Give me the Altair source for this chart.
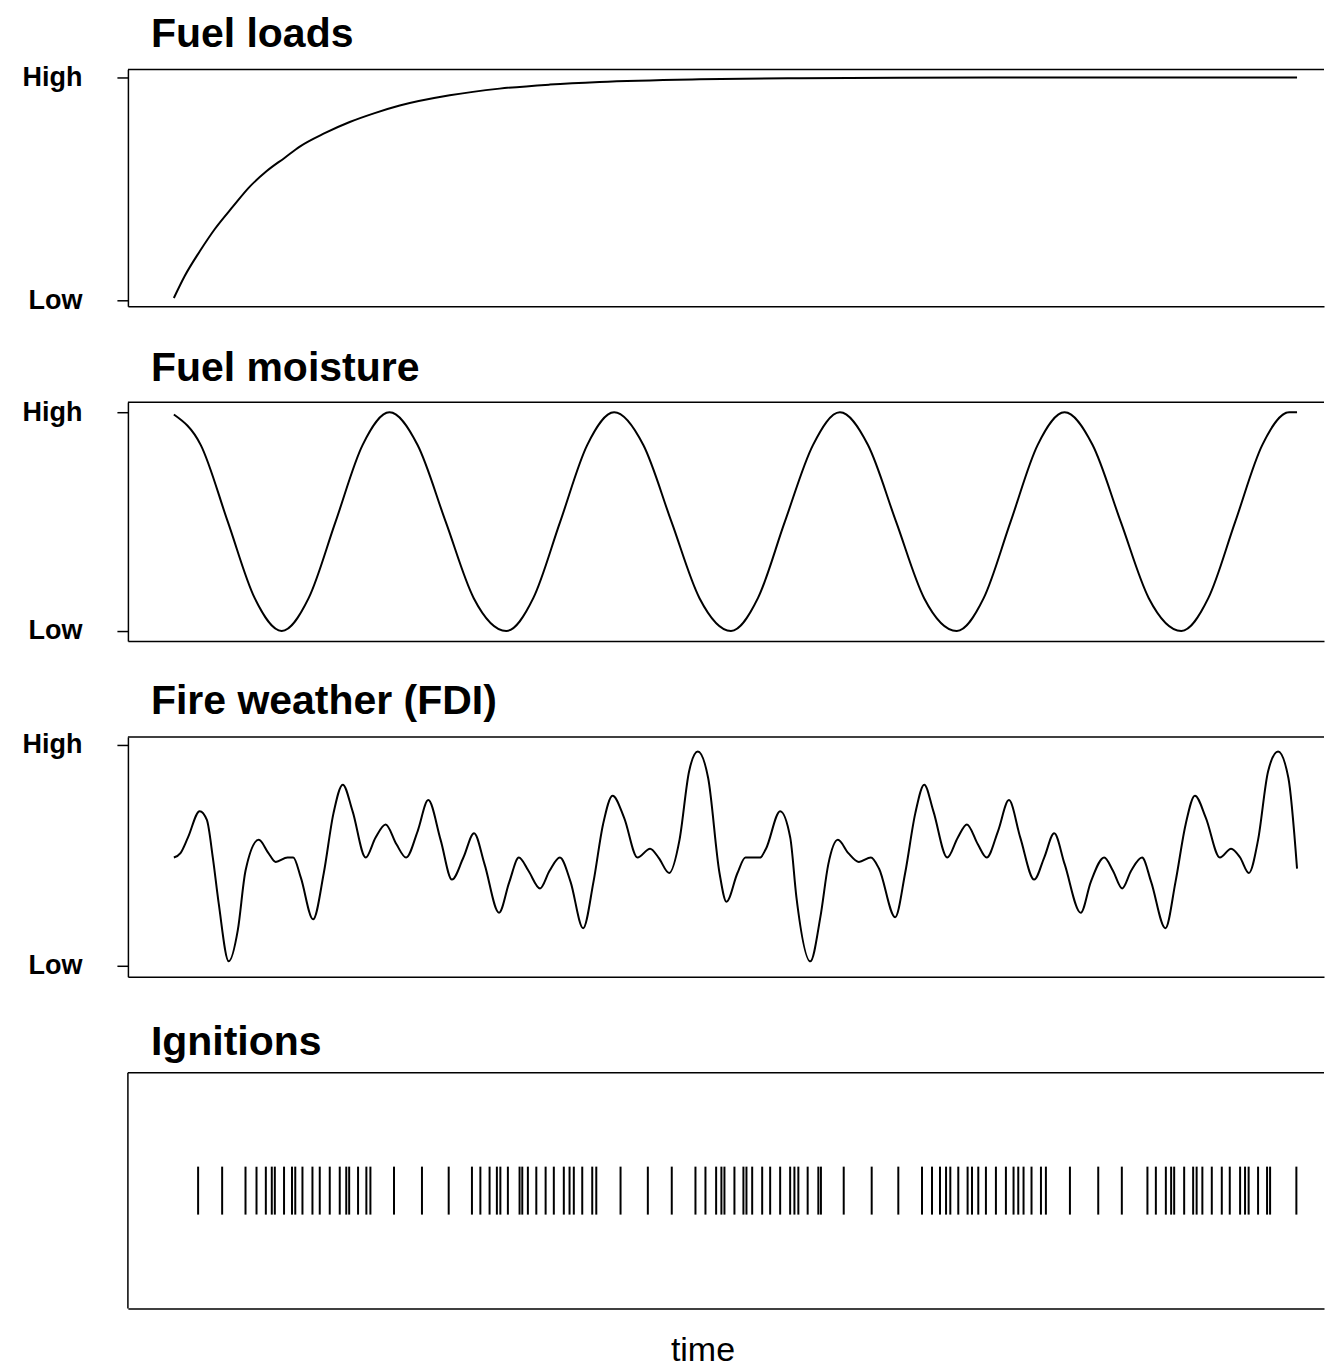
import altair as alt
import pandas as pd

# ---------------- data (time in arbitrary units 0..100, level 0=Low .. 1=High) -------------
panel_titles = ["Fuel loads", "Fuel moisture", "Fire weather (FDI)", "Ignitions"]
level_labels = ["Low", "High"]
x_title = "time"

load_time = [0, 0.98, 2.31, 3.65, 5.25, 6.76, 8.27, 9.88, 11.21, 13.43, 15.66, 17.88,
             20.11, 24.56, 29.0, 33.45, 37.9, 46.8, 55.7, 64.6, 73.5, 100]
load_value = [0.01, 0.11, 0.22, 0.32, 0.42, 0.51, 0.58, 0.64, 0.69, 0.75, 0.80, 0.84,
              0.874, 0.92, 0.95, 0.968, 0.98, 0.992, 0.997, 0.999, 1.0, 1.0]

moist_time = [0, 2.4, 4.8, 7.2, 9.6, 12.0, 14.4, 16.8, 19.2, 21.7, 24.2, 26.7, 29.6,
              32.0, 34.4, 36.8, 39.2, 41.8, 44.3, 46.8, 49.6, 52.0, 54.4, 56.9, 59.3,
              61.8, 64.3, 66.8, 69.7, 72.1, 74.5, 76.9, 79.3, 81.8, 84.3, 86.8, 89.7,
              92.1, 94.5, 96.9, 99.3, 100]
moist_value = [0.99, 0.85, 0.5, 0.15, 0.0, 0.15, 0.5, 0.85, 1.0, 0.85, 0.5, 0.15, 0.0,
               0.15, 0.5, 0.85, 1.0, 0.85, 0.5, 0.15, 0.0, 0.15, 0.5, 0.85, 1.0,
               0.85, 0.5, 0.15, 0.0, 0.15, 0.5, 0.85, 1.0, 0.85, 0.5, 0.15, 0.0,
               0.15, 0.5, 0.85, 1.0, 1.0]

fdi_time = [0.0, 0.59, 1.25, 2.30, 2.94, 3.47, 4.00, 4.89, 5.69, 6.38, 7.56, 8.42, 9.07,
            10.12, 10.63, 11.30, 12.40, 13.35, 14.21, 15.04, 15.91, 17.08, 17.95, 18.86,
            19.82, 20.68, 21.71, 22.65, 23.75, 24.76, 25.78, 26.73, 27.66, 28.95, 29.87,
            30.72, 31.57, 32.60, 33.45, 34.37, 35.32, 36.44, 37.36, 38.21, 39.06, 40.09,
            41.28, 42.40, 43.15, 44.10, 45.02, 45.87, 46.65, 47.57, 48.58, 49.20, 50.18,
            50.89, 52.19, 52.72, 53.98, 54.88, 55.43, 56.67, 57.56, 58.27, 59.12, 60.05,
            60.99, 62.06, 62.78, 64.22, 65.11, 66.01, 66.81, 67.62, 68.86, 69.79, 70.61,
            71.58, 72.37, 73.38, 74.35, 75.36, 76.60, 77.49, 78.38, 79.31, 80.74, 81.64,
            82.83, 83.61, 84.43, 85.23, 86.20, 87.01, 88.28, 89.18, 90.08, 90.91, 91.88,
            93.13, 94.13, 94.93, 95.71, 96.53, 97.42, 98.31, 99.23, 100.0]
fdi_value = [0.49, 0.51, 0.58, 0.70, 0.66, 0.49, 0.28, 0.02, 0.16, 0.43, 0.57, 0.51, 0.47,
             0.49, 0.49, 0.40, 0.21, 0.42, 0.69, 0.82, 0.70, 0.49, 0.58, 0.64,
             0.55, 0.49, 0.61, 0.75, 0.57, 0.39, 0.49, 0.60, 0.46, 0.24, 0.38,
             0.49, 0.43, 0.35, 0.43, 0.49, 0.38, 0.17, 0.38, 0.64, 0.77, 0.67,
             0.49, 0.53, 0.49, 0.42, 0.57, 0.88, 0.97, 0.85, 0.42, 0.29, 0.42,
             0.49, 0.49, 0.53, 0.70, 0.58, 0.31, 0.02, 0.22, 0.46, 0.57, 0.51,
             0.47, 0.49, 0.44, 0.22, 0.42, 0.69, 0.82, 0.70, 0.49, 0.58, 0.64,
             0.55, 0.49, 0.61, 0.75, 0.58, 0.39, 0.49, 0.60, 0.46, 0.24, 0.38,
             0.49, 0.43, 0.35, 0.43, 0.49, 0.38, 0.17, 0.38, 0.64, 0.77, 0.67,
             0.49, 0.53, 0.49, 0.42, 0.57, 0.88, 0.97, 0.85, 0.44]

ignition_time = [2.16, 4.30, 6.38, 7.36, 8.19, 8.72, 8.99, 9.81, 10.52, 10.81, 11.45, 12.34,
                 12.99, 13.88, 14.77, 15.35, 15.61, 16.40, 17.14, 17.50, 19.60, 22.09, 24.47,
                 26.54, 27.29, 28.11, 28.76, 29.07, 29.74, 30.78, 31.02, 31.52, 32.27, 33.10,
                 33.83, 34.72, 35.23, 35.61, 36.36, 37.25, 37.61, 39.77, 42.20, 44.33,
                 46.44, 47.33, 48.28, 48.75, 49.02, 49.91, 50.71, 50.98, 51.49, 52.38, 53.09,
                 53.98, 54.87, 55.25, 55.60, 56.43, 57.38, 57.61, 59.64, 62.13, 64.50,
                 66.61, 67.50, 68.21, 68.75, 69.13, 69.84, 70.67, 71.06, 71.62, 72.30, 73.19,
                 74.08, 74.76, 75.18, 75.65, 76.36, 77.20, 77.64, 79.78, 82.30, 84.40,
                 86.68, 87.43, 88.32, 88.79, 89.06, 89.95, 90.75, 91.06, 91.57, 92.41, 93.30,
                 94.01, 94.93, 95.37, 95.69, 96.53, 97.33, 97.60, 99.94]

# ---------------- styling ---------------------------------------------------------------
FONT = "Liberation Sans"
W = 1197
HEIGHTS = [237, 239, 240, 236]
Y_DOMAINS = [[-0.027, 1.036], [-0.046, 1.046], [-0.05, 1.036]]
X_DOMAIN = [-4.09, 102.40]
LW = 2

xscale = alt.Scale(domain=X_DOMAIN, nice=False, zero=False)


def title_params(text):
    return alt.TitleParams(text=text, font=FONT, fontSize=41, fontWeight="bold",
                           anchor="start", frame="group", dx=23, dy=52, offset=28,
                           baseline="alphabetic", color="black")


def x_axis(with_title=False):
    kw = dict(ticks=False, labels=False, domain=True, domainColor="black",
              domainWidth=1.5, grid=False)
    if with_title:
        kw.update(title=x_title, titleFont=FONT, titleFontSize=34,
                  titleFontWeight="normal", titleColor="black", titleX=575,
                  titleY=52, titleBaseline="alphabetic", titleAlign="center")
    else:
        kw.update(title=None)
    return alt.Axis(**kw)


y_axis = alt.Axis(values=[0, 1],
                  labelExpr=f"datum.value == 1 ? '{level_labels[1]}' : '{level_labels[0]}'",
                  title=None, grid=False, tickSize=11, tickColor="black", tickWidth=1.5,
                  domainColor="black", domainWidth=1.5, labelFont=FONT, labelFontSize=27,
                  labelFontWeight="bold", labelColor="black", labelPadding=35)


def top_border():
    return alt.Chart(pd.DataFrame({"a": [0]})).mark_rule(
        color="black", strokeWidth=1.5).encode(
        x=alt.value(0), x2=alt.value(W), y=alt.value(0))


def line_panel(i, t, v):
    df = pd.DataFrame({"time": t, "level": v})
    line = alt.Chart(df).mark_line(color="black", strokeWidth=LW,
                                   interpolate="monotone").encode(
        x=alt.X("time:Q", scale=xscale, axis=x_axis()),
        y=alt.Y("level:Q", scale=alt.Scale(domain=Y_DOMAINS[i], nice=False, zero=False),
                axis=y_axis))
    return alt.layer(line, top_border()).properties(
        width=W, height=HEIGHTS[i], title=title_params(panel_titles[i]))


p1 = line_panel(0, load_time, load_value)
p2 = line_panel(1, moist_time, moist_value)
p3 = line_panel(2, fdi_time, fdi_value)

ign_df = pd.DataFrame({"time": ignition_time})
ticks = alt.Chart(ign_df).mark_tick(color="black", thickness=2, size=48,
                                    opacity=1).encode(
    x=alt.X("time:Q", scale=xscale, axis=x_axis(with_title=True)))
left_border = alt.Chart(pd.DataFrame({"a": [0]})).mark_rule(
    color="black", strokeWidth=1.5).encode(
    x=alt.value(0), y=alt.value(0), y2=alt.value(HEIGHTS[3]))
p4 = alt.layer(ticks, top_border(), left_border).properties(
    width=W, height=HEIGHTS[3], title=title_params(panel_titles[3]))

chart = alt.vconcat(p1, p2, p3, p4, spacing=96, bounds="flush").properties(
    padding={"left": 14, "top": 5, "right": 0, "bottom": 0},
    background="white",
).configure_view(stroke=None)

chart.save("out.html", embed_options={"renderer": "svg", "actions": False})
